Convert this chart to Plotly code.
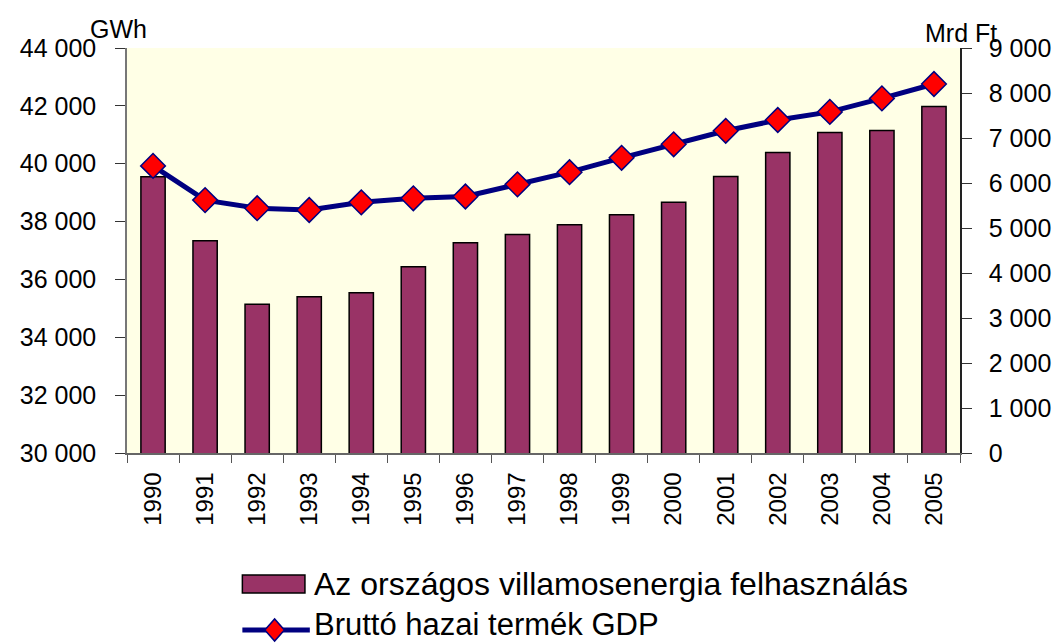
import plotly.graph_objects as go

years = [str(y) for y in range(1990, 2006)]
villamos = [39550, 37340, 35140, 35400, 35540, 36440, 37270, 37550,
            37890, 38240, 38670, 39560, 40390, 41080, 41150, 41980]
gdp = [6380, 5620, 5440, 5400, 5570, 5660, 5700, 5970,
       6240, 6560, 6860, 7160, 7400, 7580, 7880, 8200]
left_ticks = list(range(30000, 44001, 2000))
right_ticks = list(range(0, 9001, 1000))
name_bar = "Az országos villamosenergia felhasználás"
name_line = "Bruttó hazai termék GDP"

FONT = "Liberation Sans, Arial, sans-serif"
BAR_COLOR = "#993366"
LINE_COLOR = "#000080"

fig = go.Figure()
fig.add_trace(go.Bar(
    x=years, y=villamos, name=name_bar,
    marker=dict(color=BAR_COLOR, line=dict(color="black", width=1.5)),
    yaxis="y", showlegend=False,
))
fig.add_trace(go.Scatter(
    x=years, y=gdp, name=name_line, mode="lines+markers",
    line=dict(color=LINE_COLOR, width=5),
    marker=dict(symbol="diamond", size=19, color="#FF0000",
                line=dict(color=LINE_COLOR, width=1.5)),
    yaxis="y2", showlegend=False,
))

# The page body has an 8px margin; figure is sized to fill the rest.
OFF = 8
FW, FH = 1063 - OFF, 644 - OFF
# plot area in window pixels: x 118..970, y 48..453
L, R, T, B = 118, 970, 48, 453
W, H = R - L, B - T
def px(x):
    return (x - L) / W
def py(y):
    return (B - y) / H

shapes = [
    dict(type="rect", xref="paper", yref="paper",
         x0=px(236), x1=px(300), y0=py(593), y1=py(575),
         fillcolor=BAR_COLOR, line=dict(color="black", width=1.5)),
    dict(type="line", xref="paper", yref="paper",
         x0=px(236), x1=px(305), y0=py(630), y1=py(630),
         line=dict(color=LINE_COLOR, width=5)),
    dict(type="path", xref="paper", yref="paper",
         path="M {a},{b} L {c},{d} L {e},{b} L {c},{f} Z".format(
             a=px(259), b=py(630), c=px(269), d=py(619), e=px(279), f=py(641)),
         fillcolor="#FF0000", line=dict(color=LINE_COLOR, width=1.5)),
]

annotations = [
    dict(text=name_bar, xref="paper", yref="paper", x=px(307), y=py(584),
         xanchor="left", yanchor="middle", showarrow=False,
         font=dict(size=32, color="black", family=FONT)),
    dict(text=name_line, xref="paper", yref="paper", x=px(307), y=py(624),
         xanchor="left", yanchor="middle", showarrow=False,
         font=dict(size=31, color="black", family=FONT)),
    dict(text="GWh", xref="paper", yref="paper", x=px(109), y=py(29),
         xanchor="center", yanchor="middle", showarrow=False,
         font=dict(size=25, color="black", family=FONT)),
    dict(text="Mrd Ft", xref="paper", yref="paper", x=px(971), y=py(33),
         xanchor="center", yanchor="middle", showarrow=False,
         font=dict(size=25, color="black", family=FONT)),
]

fig.update_layout(
    width=FW, height=FH,
    margin=dict(l=L - OFF, r=FW - (R - OFF), t=T - OFF, b=FH - (B - OFF)),
    paper_bgcolor="white",
    plot_bgcolor="#FFFFE6",
    separators=". ",
    font=dict(family=FONT, size=25, color="black"),
    bargap=0.534,
    showlegend=False,
    shapes=shapes,
    annotations=annotations,
    xaxis=dict(
        type="category", range=[-0.5, len(years) - 0.5],
        tickangle=-90, tickson="boundaries",
        ticks="outside", ticklen=8, tickcolor="#555555",
        showline=True, linecolor="#666666", linewidth=1.5,
        showgrid=False, zeroline=False, ticklabelstandoff=8,
        tickfont=dict(size=24),
    ),
    yaxis=dict(
        range=[30000, 44000], tickvals=left_ticks, tickformat=",d",
        ticks="outside", ticklen=10, tickcolor="#333333",
        showline=True, linecolor="#777777", linewidth=1.5,
        showgrid=False, zeroline=False, ticklabelstandoff=14,
        tickfont=dict(size=25),
    ),
    yaxis2=dict(
        range=[0, 9000], tickvals=right_ticks, tickformat=",d",
        overlaying="y", side="right",
        ticks="outside", ticklen=10, tickcolor="#333333",
        showline=True, linecolor="#222222", linewidth=1.5,
        showgrid=False, zeroline=False, ticklabelstandoff=12,
        tickfont=dict(size=25),
    ),
)

fig.write_html("out.html")
